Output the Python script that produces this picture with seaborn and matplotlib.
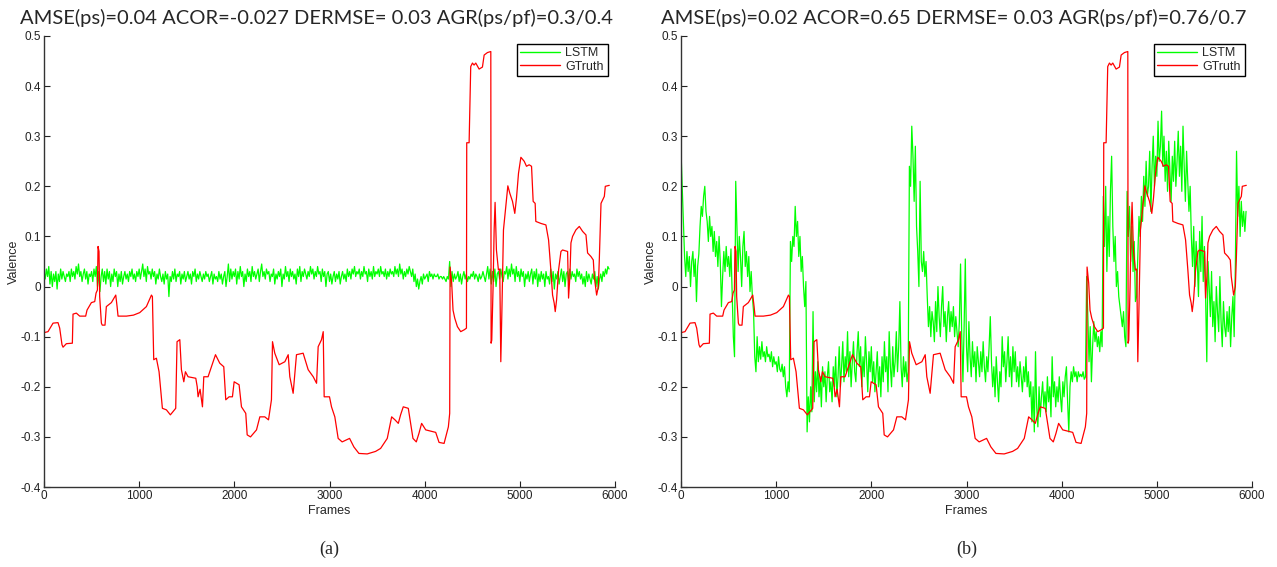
import numpy as np
import pandas as pd
import seaborn as sns
import matplotlib
matplotlib.use("Agg")
import matplotlib.pyplot as plt

# ---------------- data ----------------
titles = ["AMSE(ps)=0.04 ACOR=-0.027 DERMSE= 0.03 AGR(ps/pf)=0.3/0.4",
          "AMSE(ps)=0.02 ACOR=0.65 DERMSE= 0.03 AGR(ps/pf)=0.76/0.7"]
captions = ["(a)", "(b)"]
series_names = ["LSTM", "GTruth"]
x_ticks = [0, 1000, 2000, 3000, 4000, 5000, 6000]
y_ticks = [-0.4, -0.3, -0.2, -0.1, 0, 0.1, 0.2, 0.3, 0.4, 0.5]

# ground truth (same in both panels): breakpoints (frame, valence)
gt_frames = [0, 42, 95, 147, 165, 189, 200, 235, 298, 305, 340, 375, 438, 452, 498, 533,
             547, 561, 568, 578, 585, 603, 612, 641, 655, 708, 754, 768, 778, 866, 940,
             1006, 1076, 1129, 1139, 1153, 1181, 1209, 1244, 1286, 1328, 1384, 1398, 1427,
             1444, 1469, 1486, 1514, 1595, 1610, 1619, 1640, 1665, 1679, 1724, 1777, 1802,
             1847, 1889, 1910, 1945, 1980, 1998, 2050, 2075, 2120, 2135, 2170, 2233, 2268,
             2320, 2359, 2390, 2401, 2425, 2471, 2531, 2566, 2583, 2618, 2653, 2723, 2776,
             2829, 2864, 2881, 2916, 2934, 2944, 3000, 3021, 3056, 3091, 3133, 3211, 3256,
             3309, 3396, 3484, 3537, 3607, 3653, 3688, 3723, 3747, 3775, 3828, 3853, 3877,
             3912, 3940, 3968, 4011, 4116, 4151, 4204, 4249, 4263, 4267, 4284, 4298, 4316,
             4344, 4379, 4418, 4439, 4442, 4467, 4484, 4502, 4519, 4537, 4572, 4607, 4625,
             4660, 4695, 4698, 4705, 4719, 4730, 4740, 4754, 4775, 4789, 4800, 4811, 4828,
             4853, 4874, 4895, 4923, 4947, 4965, 4986, 5011, 5046, 5070, 5098, 5123, 5140,
             5161, 5168, 5221, 5274, 5302, 5326, 5344, 5361, 5372, 5386, 5407, 5432, 5449,
             5502, 5512, 5526, 5537, 5554, 5589, 5625, 5660, 5695, 5712, 5747, 5772, 5782,
             5807, 5825, 5835, 5853, 5870, 5888, 5898, 5940]
gt_values = [-0.092, -0.09, -0.073, -0.072, -0.083, -0.116, -0.121, -0.114, -0.113, -0.055,
             -0.053, -0.059, -0.059, -0.047, -0.032, -0.03, -0.013, -0.007, 0.08, 0.07,
             -0.02, -0.073, -0.077, -0.077, -0.04, -0.032, -0.017, -0.04, -0.059, -0.059,
             -0.057, -0.052, -0.04, -0.017, -0.02, -0.146, -0.143, -0.17, -0.243, -0.246,
             -0.256, -0.243, -0.11, -0.106, -0.166, -0.19, -0.17, -0.18, -0.183, -0.2,
             -0.22, -0.205, -0.24, -0.18, -0.18, -0.15, -0.136, -0.153, -0.16, -0.226,
             -0.22, -0.22, -0.19, -0.196, -0.24, -0.253, -0.296, -0.3, -0.286, -0.26,
             -0.26, -0.266, -0.226, -0.11, -0.133, -0.156, -0.15, -0.136, -0.18, -0.213,
             -0.136, -0.133, -0.166, -0.18, -0.193, -0.12, -0.106, -0.09, -0.22, -0.22,
             -0.24, -0.26, -0.303, -0.31, -0.303, -0.32, -0.333, -0.334, -0.329, -0.323,
             -0.303, -0.26, -0.266, -0.273, -0.256, -0.24, -0.243, -0.273, -0.303, -0.31,
             -0.293, -0.273, -0.286, -0.291, -0.311, -0.313, -0.28, -0.253, 0.039, 0.007,
             -0.047, -0.063, -0.08, -0.09, -0.086, -0.083, 0.287, 0.287, 0.439, 0.446,
             0.442, 0.446, 0.434, 0.438, 0.462, 0.467, 0.469, -0.113, -0.107, 0.0, 0.113,
             0.168, 0.073, 0.033, 0.035, -0.15, -0.053, 0.113, 0.16, 0.201, 0.186, 0.17,
             0.146, 0.177, 0.226, 0.258, 0.25, 0.24, 0.243, 0.24, 0.17, 0.166, 0.13, 0.126,
             0.123, 0.093, 0.033, -0.017, -0.033, -0.05, -0.027, 0.033, 0.07, 0.073, 0.07,
             -0.023, 0.02, 0.087, 0.1, 0.113, 0.12, 0.11, 0.103, 0.067, 0.06, 0.053, 0.02,
             -0.017, 0.0, 0.053, 0.166, 0.173, 0.18, 0.2, 0.202]

# LSTM predictions, read every 12.5 frames (one row = 250 frames)
lstm_step = 12.5
lstm_a = [
    0.03, 0.015, 0.035, 0.02, 0.04, 0.005, 0.03, 0.0, 0.025, 0.01, 0.03, -0.005, 0.025, 0.01, 0.035, 0.015, 0.03, 0.02, 0.01, 0.025,
    0.02, 0.03, 0.01, 0.035, 0.02, 0.03, 0.015, 0.04, 0.025, 0.045, 0.02, 0.03, 0.01, 0.025, 0.035, 0.015, 0.03, 0.005, 0.025, 0.02,
    0.03, 0.01, 0.035, 0.02, 0.04, 0.0, 0.03, -0.01, 0.02, 0.035, 0.01, 0.03, 0.005, 0.035, 0.015, 0.03, 0.0, 0.025, 0.01, 0.035,
    0.02, 0.03, 0.0, 0.025, 0.01, 0.03, 0.005, 0.02, 0.03, 0.015, 0.025, 0.01, 0.03, 0.02, 0.035, 0.015, 0.025, 0.01, 0.03, 0.02,
    0.035, 0.015, 0.03, 0.045, 0.02, 0.035, 0.01, 0.04, 0.025, 0.03, 0.015, 0.035, 0.02, 0.03, 0.005, 0.025, 0.015, 0.035, 0.02, 0.01,
    0.025, 0.005, 0.03, 0.015, 0.025, -0.02, 0.02, 0.01, 0.03, 0.015, 0.035, 0.01, 0.025, 0.02, 0.03, 0.005, 0.025, 0.015, 0.03, 0.01,
    0.02, 0.03, 0.015, 0.025, 0.005, 0.03, 0.02, 0.035, 0.01, 0.025, 0.015, 0.03, 0.02, 0.01, 0.025, 0.015, 0.03, 0.02, 0.025, 0.01,
    0.02, 0.03, 0.005, 0.025, 0.015, 0.02, 0.01, 0.03, 0.015, 0.025, 0.005, 0.02, 0.03, 0.0, 0.02, 0.045, 0.01, 0.035, 0.015, 0.03,
    0.02, 0.035, 0.005, 0.03, 0.015, 0.04, 0.02, 0.03, 0.0, 0.025, 0.01, 0.035, 0.02, 0.03, 0.01, 0.04, 0.02, 0.03, 0.015, 0.025,
    0.035, 0.01, 0.03, 0.045, 0.02, 0.03, 0.015, 0.035, 0.025, 0.03, 0.01, 0.025, 0.02, 0.035, 0.005, 0.025, 0.015, 0.03, 0.02, 0.035,
    0.0, 0.025, 0.015, 0.04, 0.02, 0.03, 0.01, 0.035, 0.02, 0.03, 0.015, 0.025, 0.005, 0.035, 0.02, 0.04, 0.01, 0.03, 0.02, 0.035,
    0.025, 0.015, 0.03, 0.02, 0.04, 0.025, 0.035, 0.015, 0.03, 0.02, 0.04, 0.025, 0.03, 0.01, 0.035, 0.02, 0.03, 0.0, 0.025, 0.03,
    0.01, 0.025, 0.005, 0.02, 0.03, 0.01, 0.025, 0.015, 0.03, 0.005, 0.02, 0.03, 0.015, 0.025, 0.01, 0.035, 0.02, 0.03, 0.015, 0.035,
    0.025, 0.04, 0.02, 0.03, 0.025, 0.035, 0.015, 0.03, 0.02, 0.04, 0.025, 0.03, 0.01, 0.035, 0.02, 0.03, 0.015, 0.04, 0.02, 0.03,
    0.025, 0.035, 0.02, 0.04, 0.025, 0.03, 0.02, 0.035, 0.015, 0.03, 0.02, 0.035, 0.025, 0.03, 0.02, 0.04, 0.025, 0.035, 0.02, 0.045,
    0.025, 0.035, 0.015, 0.03, 0.02, 0.035, 0.025, 0.04, 0.03, 0.02, 0.035, 0.01, 0.025, 0.0, 0.015, -0.005, 0.01, 0.02, 0.005, 0.025,
    0.015, 0.02, 0.025, 0.01, 0.03, 0.02, 0.025, 0.015, 0.025, 0.02, 0.02, 0.025, 0.015, 0.02, 0.02, 0.015, 0.02, 0.015, 0.01, 0.02,
    0.015, 0.05, 0.0, 0.03, 0.01, 0.025, 0.015, 0.02, 0.03, 0.01, 0.025, 0.005, 0.02, 0.03, 0.015, 0.025, 0.01, 0.02, 0.015, 0.025,
    0.02, 0.03, 0.015, 0.025, 0.02, 0.01, 0.025, 0.015, 0.02, 0.03, 0.02, 0.01, 0.025, 0.04, 0.015, 0.035, 0.005, 0.03, 0.01, 0.035,
    0.0, 0.025, 0.03, 0.015, 0.035, 0.02, 0.01, 0.03, 0.025, 0.04, 0.015, 0.035, 0.02, 0.045, 0.025, 0.035, 0.01, 0.04, 0.02, 0.03,
    0.01, 0.035, 0.02, 0.03, 0.0, 0.025, 0.015, 0.03, 0.01, 0.025, 0.035, 0.005, 0.03, 0.015, 0.035, 0.0, 0.025, 0.01, 0.03, 0.015,
    0.025, 0.0, 0.03, 0.015, 0.02, 0.005, 0.035, 0.01, 0.03, -0.005, 0.025, 0.015, 0.03, 0.005, 0.02, 0.035, 0.01, 0.03, 0.0, 0.025,
    0.03, 0.01, 0.035, 0.015, 0.03, 0.02, 0.025, 0.01, 0.035, 0.02, 0.03, 0.015, 0.025, 0.005, 0.02, 0.0, 0.03, 0.01, 0.025, 0.015,
    0.005, 0.025, 0.015, 0.03, 0.0, 0.02, -0.005, 0.015, 0.025, 0.01, 0.03, 0.02, 0.035, 0.025, 0.04, 0.035]
lstm_b = [
    0.27, 0.2, 0.13, 0.06, 0.02, 0.07, 0.03, 0.06, 0.0, 0.05, 0.07, 0.02, 0.055, -0.03, 0.04, 0.065, 0.12, 0.16, 0.14, 0.18,
    0.2, 0.15, 0.13, 0.09, 0.14, 0.1, 0.12, 0.07, 0.11, 0.06, 0.09, 0.04, 0.1, 0.05, -0.04, 0.02, 0.07, 0.03, 0.08, 0.04,
    0.06, 0.02, 0.075, -0.01, -0.1, -0.14, 0.21, 0.12, 0.03, 0.1, 0.06, 0.0, 0.08, 0.11, 0.04, 0.07, 0.02, 0.06, -0.01, 0.03,
    -0.02, -0.05, -0.14, -0.17, -0.1, -0.15, -0.12, -0.145, -0.11, -0.14, -0.13, -0.15, -0.12, -0.14, -0.135, -0.15, -0.13, -0.16, -0.14, -0.155,
    -0.15, -0.17, -0.14, -0.165, -0.17, -0.155, -0.18, -0.16, -0.2, -0.22, -0.19, -0.21, 0.09, 0.05, 0.1, 0.08, 0.16, 0.1, 0.13, 0.06,
    0.1, 0.03, 0.06, 0.0, -0.04, 0.01, -0.29, -0.22, -0.27, -0.2, -0.25, -0.05, -0.23, -0.17, -0.21, -0.15, -0.22, -0.18, -0.24, -0.16,
    -0.2, -0.17, -0.23, -0.18, -0.15, -0.21, -0.19, -0.23, -0.16, -0.2, -0.14, -0.22, -0.18, -0.12, -0.2, -0.16, -0.11, -0.19, -0.14, -0.17,
    -0.09, -0.18, -0.13, -0.2, -0.15, -0.11, -0.17, -0.19, -0.13, -0.09, -0.16, -0.12, -0.2, -0.14, -0.18, -0.1, -0.15, -0.21, -0.13, -0.17,
    -0.12, -0.19, -0.15, -0.21, -0.17, -0.13, -0.2, -0.16, -0.22, -0.14, -0.19, -0.11, -0.17, -0.14, -0.21, -0.09, -0.16, -0.2, -0.12, -0.18,
    -0.15, -0.09, -0.17, -0.12, -0.03, -0.16, -0.2, -0.14, -0.18, -0.15, -0.19, -0.17, 0.24, 0.2, 0.32, 0.26, 0.17, 0.28, 0.12, 0.07,
    0.0, 0.21, 0.05, 0.03, 0.07, 0.02, 0.05, -0.02, -0.08, -0.04, -0.1, -0.05, -0.07, -0.11, -0.03, -0.09, 0.0, -0.06, -0.1, -0.04,
    0.0, -0.08, -0.05, -0.11, -0.06, -0.03, -0.09, -0.05, -0.08, -0.04, -0.1, -0.06, -0.09, -0.12, -0.07, 0.045, -0.1, -0.19, -0.08, 0.055,
    -0.12, -0.17, -0.07, -0.14, -0.18, -0.11, -0.16, -0.13, -0.19, -0.12, -0.15, -0.18, -0.13, -0.17, -0.11, -0.16, -0.19, -0.14, -0.17, -0.12,
    -0.06, -0.15, -0.2, -0.16, -0.22, -0.14, -0.19, -0.23, -0.17, -0.2, -0.1, -0.16, -0.13, -0.19, -0.15, -0.1, -0.18, -0.14, -0.2, -0.12,
    -0.17, -0.13, -0.19, -0.16, -0.2, -0.15, -0.18, -0.21, -0.16, -0.19, -0.14, -0.2, -0.17, -0.22, -0.19, -0.27, -0.2, -0.29, -0.13, -0.24,
    -0.28, -0.2, -0.26, -0.22, -0.19, -0.24, -0.21, -0.25, -0.18, -0.23, -0.2, -0.26, -0.14, -0.22, -0.19, -0.24, -0.2, -0.23, -0.18, -0.22,
    -0.25, -0.19, -0.22, -0.18, -0.16, -0.23, -0.29, -0.2, -0.17, -0.19, -0.16, -0.18, -0.17, -0.19, -0.17, -0.18, -0.175, -0.18, -0.17, -0.185,
    -0.18, 0.02, -0.06, -0.15, -0.08, -0.19, -0.12, -0.07, -0.11, -0.09, -0.12, -0.1, -0.13, -0.09, -0.12, 0.18, 0.08, 0.2, 0.03, 0.14,
    0.06, 0.19, 0.26, 0.12, 0.05, 0.1, 0.0, 0.03, -0.02, -0.04, -0.06, -0.08, -0.05, -0.1, -0.12, 0.19, 0.1, 0.16, 0.05, 0.12,
    0.03, 0.09, -0.03, -0.02, 0.06, 0.14, 0.1, 0.18, 0.13, 0.22, 0.16, 0.25, 0.18, 0.2, 0.27, 0.15, 0.24, 0.3, 0.2, 0.26,
    0.22, 0.33, 0.25, 0.28, 0.35, 0.24, 0.3, 0.21, 0.27, 0.19, 0.29, 0.23, 0.17, 0.26, 0.21, 0.29, 0.2, 0.25, 0.31, 0.22,
    0.28, 0.19, 0.32, 0.24, 0.17, 0.27, 0.21, 0.15, 0.2, 0.1, 0.04, 0.12, 0.0, 0.09, 0.05, -0.02, 0.11, 0.03, 0.14, 0.01,
    0.08, -0.02, -0.15, 0.05, 0.0, -0.06, 0.03, -0.08, -0.03, -0.11, 0.0, -0.05, -0.09, 0.02, -0.07, -0.12, -0.03, -0.08, -0.1, -0.05,
    -0.09, -0.04, -0.12, -0.06, -0.02, -0.1, 0.04, 0.27, 0.14, 0.2, 0.1, 0.17, 0.12, 0.15, 0.11, 0.15]

assert len(gt_frames) == len(gt_values)

# ---------------- style ----------------
sns.set_style("ticks")
plt.rcParams["font.family"] = ["Liberation Sans", "DejaVu Sans"]
plt.rcParams["axes.unicode_minus"] = False

fig = plt.figure(figsize=(12.77, 5.67), dpi=100)
ax_a = fig.add_axes([44 / 1277, 1 - 487 / 567, 571 / 1277, 451 / 567])
ax_b = fig.add_axes([681 / 1277, 1 - 487 / 567, 571 / 1277, 451 / 567])

green = "#00ff00"
red = "#ff0000"

for ax, lstm, title, cap in zip([ax_a, ax_b], [lstm_a, lstm_b], titles, captions):
    df_l = pd.DataFrame({"Frames": np.arange(len(lstm)) * lstm_step, "Valence": lstm})
    df_g = pd.DataFrame({"Frames": gt_frames, "Valence": gt_values})
    sns.lineplot(data=df_l, x="Frames", y="Valence", ax=ax, color=green, lw=0.9,
                 sort=False, estimator=None, label=series_names[0])
    sns.lineplot(data=df_g, x="Frames", y="Valence", ax=ax, color=red, lw=0.9,
                 sort=False, estimator=None, label=series_names[1])
    ax.set_xlim(0, 6000)
    ax.set_ylim(-0.4, 0.5)
    ax.set_xticks(x_ticks)
    ax.set_yticks(y_ticks)
    ax.set_xticklabels([str(t) for t in x_ticks])
    ax.set_yticklabels(["%g" % t for t in y_ticks])
    ax.tick_params(direction="in", length=4, width=0.8, labelsize=8.5, colors="#222222",
                   pad=2)
    sns.despine(ax=ax)
    for s in ["left", "bottom"]:
        ax.spines[s].set_linewidth(1.0)
        ax.spines[s].set_color("#333333")
    ax.set_xlabel("Frames", fontsize=9, labelpad=2)
    ax.set_ylabel("Valence", fontsize=9, labelpad=1)
    ax.set_title(title, fontsize=14.5, family=["Lato", "DejaVu Sans"], pad=8.5,
                 x=0.477)
    leg = ax.legend(loc="upper right", fontsize=9, frameon=True, fancybox=False,
                    edgecolor="black", framealpha=1, borderpad=0.3, handlelength=3.2,
                    labelspacing=0.1, borderaxespad=0.6, handletextpad=0.4)
    leg.get_frame().set_linewidth(1.0)
    for line in leg.get_lines():
        line.set_linewidth(1.0)
    bb = ax.get_position()
    fig.text(bb.x0 + bb.width / 2, 1 - 549 / 567, cap, ha="center", va="center",
             fontsize=13, family=["Liberation Serif", "DejaVu Serif"])

fig.savefig("out.png", dpi=100)
